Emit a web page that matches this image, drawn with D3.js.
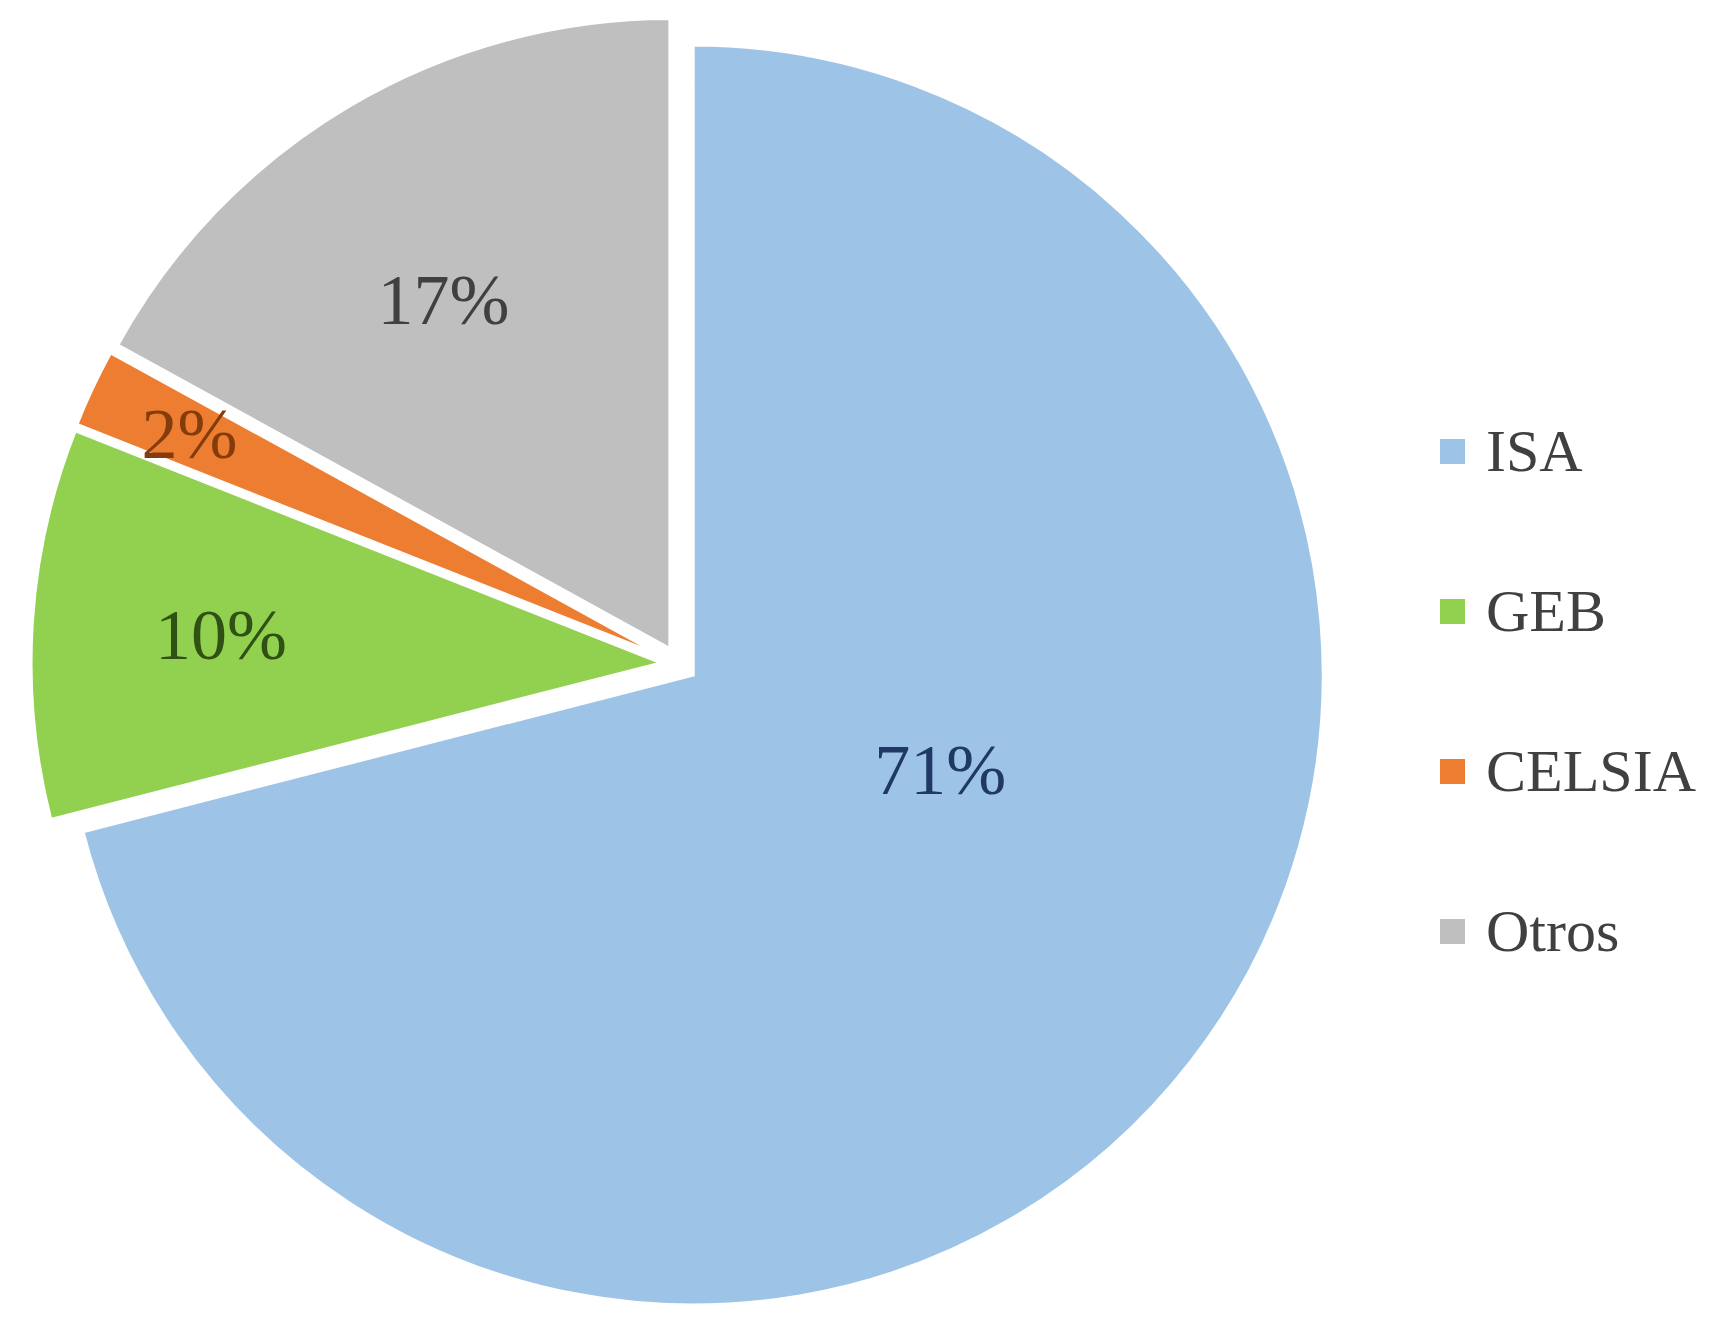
<!DOCTYPE html>
<html>
<head>
<meta charset="utf-8">
<script src="https://cdn.jsdelivr.net/npm/d3@7"></script>
<style>
  html, body { margin: 0; padding: 0; background: #ffffff; }
  svg { display: block; }
</style>
</head>
<body>
<svg id="chart" width="1735" height="1326"></svg>
<script>
// ---- data ----
const categories = ["ISA", "GEB", "CELSIA", "Otros"];
const values = [71, 10, 2, 17];
const valueLabels = ["71%", "10%", "2%", "17%"];

// ---- styles ----
const sliceColors = ["#9dc3e6", "#92d050", "#ed7d31", "#bfbfbf"];
const labelColors = ["#1f3864", "#2f5214", "#843c0c", "#404040"];

const W = 1735, H = 1326;
const cx = 679, cy = 664;      // true pie centre
const R = 630;                 // radius
const explode = 18;            // explosion distance

// label placement (fraction of radius, optional angle in degrees)
const labelPlacement = [
  { f: 0.42, angle: 111 },
  { f: 0.70 },
  { f: 0.83 },
  { f: 0.66, angle: 327 }
];

const svg = d3.select("#chart");
const g = svg.append("g").attr("transform", `translate(${cx},${cy})`);

const pie = d3.pie().sort(null).value(d => d.value).startAngle(0).endAngle(2 * Math.PI);
const data = categories.map((c, i) => ({ name: c, value: values[i], label: valueLabels[i], i }));
const arcs = pie(data);

const arc = d3.arc().innerRadius(0).outerRadius(R);

const slices = g.selectAll("g.slice").data(arcs).enter().append("g")
  .attr("class", "slice")
  .attr("transform", d => {
    const a = (d.startAngle + d.endAngle) / 2;
    return `translate(${explode * Math.sin(a)},${-explode * Math.cos(a)})`;
  });

slices.append("path")
  .attr("d", arc)
  .attr("fill", d => sliceColors[d.data.i])
  .attr("stroke", "#ffffff")
  .attr("stroke-width", 3)
  .attr("stroke-linejoin", "miter");

slices.append("text")
  .attr("transform", d => {
    const p = labelPlacement[d.data.i];
    const a = p.angle !== undefined ? p.angle * Math.PI / 180 : (d.startAngle + d.endAngle) / 2;
    const r = R * p.f;
    return `translate(${r * Math.sin(a)},${-r * Math.cos(a)})`;
  })
  .attr("text-anchor", "middle")
  .attr("dominant-baseline", "central")
  .attr("font-family", "'Liberation Serif', 'DejaVu Serif', serif")
  .attr("font-size", 72)
  .attr("fill", d => labelColors[d.data.i])
  .text(d => d.data.label);

// ---- legend ----
const legend = svg.append("g").attr("transform", "translate(1440,451)");
const rowH = 160;
const items = legend.selectAll("g.item").data(data).enter().append("g")
  .attr("class", "item")
  .attr("transform", (d, i) => `translate(0,${i * rowH})`);

items.append("rect")
  .attr("x", 0).attr("y", -12)
  .attr("width", 25).attr("height", 25)
  .attr("fill", d => sliceColors[d.i]);

items.append("text")
  .attr("x", 46).attr("y", 0)
  .attr("dominant-baseline", "central")
  .attr("font-family", "'Liberation Serif', 'DejaVu Serif', serif")
  .attr("font-size", 60)
  .attr("fill", "#404040")
  .text(d => d.name);
</script>
</body>
</html>
